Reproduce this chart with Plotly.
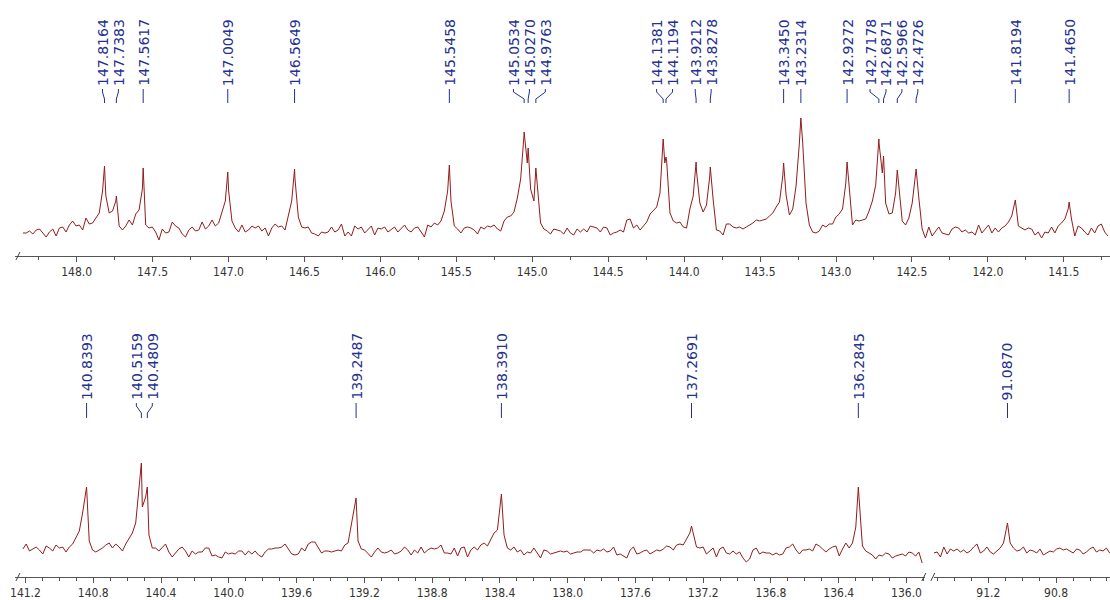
import numpy as np
import plotly.graph_objects as go

# ---------------- data ----------------
# Top spectrum: intensities sampled from 148.3536 ppm downward, step 0.021848 ppm
TOP_START = 148.3536
TOP_STEP = 0.021848
TOP_Y = [
    -2, -2, 0, -3, 1, 2, -2, -6, -1, 2, -5, 3, 4, -1, 6, 10, 5, 6, 1, 13,
    7, 8, 13, 18, 40, 35, 18, 20, 30, 5, 1, 5, 11, 6, 17, 21, 42, 6, 3, 4,
    -1, -9, 2, -2, -1, 9, 5, 3, -3, -6, 1, 4, 0, 1, 9, 2, 5, 11, 5, 8,
    18, 30, 40, 10, 3, -1, 6, -1, 1, 5, 3, 5, 0, 3, -5, 3, 7, 4, 5,
    1, 15, 30, 52, 14, 4, 3, 4, -2, -3, -5, -1, -2, -1, 4, -1, 1, 7, -5, -1,
    -5, 5, 2, 4, -2, 1, 5, -4, 3, 2, 4, -1, 2, 4, -1, 3, 6, 1, -1, 3,
    4, -1, -6, 6, 4, 8, 6, 10, 20, 40, 30, 5, 2, -2, 3, 4, 3, 1, -3, 4,
    2, 5, 4, 6, 2, 0, 10, 14, 15, 19, 33, 52, 95, 68, 42, 30, 45, 8, 2, 0,
    -3, 2, 1,
    0, -3, 3, -2, -4, 2, -1, 2, -1, 5, 4, 3, -1, 4, 3, -4, -2, -1, 1, -1,
    11, 12, 3, 6, 1, 5, 9, 17, 20, 24, 38, 90, 70, 18, 10, 8, 9, 4, 3, 22,
    35, 60, 28, 19, 26, 55, 32, 1, 0, -4, 7, 7, 4, 3, 4, 2, 4, 6, 8, 11,
    10, 11, 12, 15, 18, 24, 29, 55, 36, 16, 22, 45, 88, 88, 28, 6, -1, -2, 0, 6,
    4, 7,
    7, 14, 17, 22, 48, 42, 6, 11, 10, 11, 12, 20, 30, 46, 88, 58, 28, 17, 18, 38,
    42, 10, 6, 13, 28, 55, 33, 2, -7, 4, -5, -1, 4, -2, -3, -4, 2, 4, 3, -1,
    1, -2, -1, -4, 6, -2, 2, 6, -2, 3, -1, 3, 5, 9, 15, 28, 5, 3, 1, 3,
    2, -4, -1, -7, -1, -2, 4, -2, 5, 8, 12, 22, 12, -5, 5, 3, -1, -4, 3, -2,
    5, 7, -1, -5,
]
TOP_PEAK_PPM = [147.8164, 147.7383, 147.5617, 147.0049, 146.5649, 145.5458,
                145.0534, 145.0270, 144.9763, 144.1381, 144.1194, 143.9212,
                143.8278, 143.3450, 143.2314, 142.9272, 142.7178, 142.6871,
                142.5966, 142.4726, 141.8194, 141.4650]
TOP_PEAK_H = [65, 35, 63, 59, 62, 66, 99, 83, 63, 92, 74, 69, 64, 68, 113,
              69, 92, 75, 61, 62, 31, 29]
TOP_NOTCH_PPM = [144.1273]
TOP_NOTCH_H = [68]

# Bottom spectrum (main segment): from 141.2153 ppm, step 0.019585 ppm
BOT_START = 141.2153
BOT_STEP = 0.019585
BOT_Y = [
    0, 5, -2, 0, 2, -1, -5, 3, 1, -2, 4, 1, 2, -3, 2, 5, 12, 18, 36, 58,
    8, -1, -3, -1, 1, 4, 6, 1, 5, 2, -2, 5, 10, 16, 26, 60, 42, 52, 14, 1,
    1, -2, 1, 5, -3, -8, -4, 0, 2, -2, -8, -2, -5, -3, -3, 1, 1, -7, -6, -8,
    -9, -3, -5, -4, -5, -2, -2, -6, -2, -5, -2, -6, -8, -3, 0, 0, 1, 1, 2,
    5, 0, -5, -6, -5, 1, -2, 5, 7, 7, 2, -4, -2, -2, -3, -2, -1, -2, 4, 6,
    24, 45, 8, 0, -1, -5, -8, -3, 1, -3, -4, -3, -1, -5, -4, -2, 2, -1, -6, -1,
    -4, 2, -4, -1, 1, 0, 1, 4, -4, -4, -5, 1, -7, 1, 2, -8, -1, 2, -1, 4,
    6, 3, 9, 16, 19, 50, 14, 1, -1, 2, -3, -1, -6, -3, -4, 1, -4, -9, -1, -2,
    -5, -4, -3,
    -2, -3, -2, -5, -4, -3, -3, -1, -1, -1, -4, -1, -2, 0, -3, -2, 2, -6, -5, -7,
    -9, -1, 2, -5, -4, -2, -1, -5, -3, -1, -2, 0, 3, 2, -1, 4, 5, 4, 10, 16,
    16, 2, 1, 2, -5, -2, 1, -8, 0, 2, -4, -5, -2, -5, -3, -9, -13, -10, -1, 1,
    -5, -3, -4, -4, -6, -4, -6, -5, 1, 2, 5, -1, -5, -1, -1, 0, -2, 5, 3, 0,
    -3, 0,
    2, 3, -7, 0, 6, 1, 6, 22, 50, 3, -2, -4, -6, -10, -6, -7, -4, -5, -9, -7,
    -6, -5, -7, -3, -4, -7, -3, -14,
]
BOT_PEAK_PPM = [140.8393, 140.5159, 140.4809, 139.2487, 138.3910, 137.2691, 136.2845]
BOT_PEAK_H = [62, 86, 62, 51, 55, 23, 62]

# Bottom spectrum (segment after the axis break)
BRK_START = 91.5218
BRK_STEP = 0.019585
BRK_Y = [
    -4, -3, -8, 2, -5, 0, -2, 0, -3, -1, -4, -2, 2, 5, -4, -2, 2, -3, -5, -2,
    1, 6, 22, 6, 1, -2, -1, 2, -4, -1, -2, -4, 0, -6, -4, -2, -3, 0, 1, -1,
    0, -2, -4, 0, -1, -5, -3, 0, 2, -3, -1, -2, 1, -4,
]
BRK_PEAK_PPM = [91.0870]
BRK_PEAK_H = [26]

# ---------------- layout constants ----------------
W, H = 1110, 600
TOP_RANGE = [148.406, 141.196]
TOP_DOM = [10 / W, 1.0]
BOT_RANGE = [141.262, 135.892]
BOT_DOM = [10 / W, 924 / W]
BRK_RANGE = [91.522, 90.482]
BRK_DOM = [933 / W, 1.0]
TOP_YDOM = [1 - 256 / H, 1.0]
TOP_YRANGE = [-25, 231]
BOT_YDOM = [1 - 577 / H, 1 - 300 / H]
BOT_YRANGE = [-28, 249]

LINE_COLOR = "#921c1c"
LABEL_COLOR = "#25308f"
LABEL_FONT = dict(family="DejaVu Sans, Arial, sans-serif", size=14, color=LABEL_COLOR)
TICK_FONT = dict(family="DejaVu Sans Condensed, Liberation Sans Narrow, Arial Narrow, Liberation Sans, sans-serif",
                 size=12, color="#333333")


def build(start, step, ys, pk_ppm, pk_h):
    x = start - step * np.arange(len(ys))
    xs = np.concatenate([x, np.array(pk_ppm, float)])
    yy = np.concatenate([np.array(ys, float), np.array(pk_h, float)])
    order = np.argsort(-xs)
    return xs[order], yy[order]


def px_per_ppm(rng, dom):
    return (dom[1] - dom[0]) * W / abs(rng[0] - rng[1])


def spread(ppms, scale, gap):
    """Place label positions (ppm) so neighbours are at least `gap` px apart,
    centring each crowded group on its peaks."""
    ref = max(ppms)
    pos = sorted((ref - p) * scale for p in ppms)
    clusters = [[p] for p in pos]
    merged = True
    while merged:
        merged = False
        out = []
        for c in clusters:
            if out:
                prev = out[-1]
                ps = np.mean(prev) - (len(prev) - 1) * gap / 2
                pe = ps + (len(prev) - 1) * gap
                cs = np.mean(c) - (len(c) - 1) * gap / 2
                if cs - pe < gap:
                    out[-1] = prev + c
                    merged = True
                    continue
            out.append(c)
        clusters = out
    placed = []
    for c in clusters:
        s = np.mean(c) - (len(c) - 1) * gap / 2
        placed += [s + i * gap for i in range(len(c))]
    return [ref - q / scale for q in placed]


fig = go.Figure()

tx, ty = build(TOP_START, TOP_STEP, TOP_Y, TOP_PEAK_PPM + TOP_NOTCH_PPM, TOP_PEAK_H + TOP_NOTCH_H)
fig.add_trace(go.Scatter(x=tx, y=ty, mode="lines", line=dict(color=LINE_COLOR, width=1),
                         xaxis="x", yaxis="y", hoverinfo="skip", showlegend=False))
bx, by = build(BOT_START, BOT_STEP, BOT_Y, BOT_PEAK_PPM, BOT_PEAK_H)
fig.add_trace(go.Scatter(x=bx, y=by, mode="lines", line=dict(color=LINE_COLOR, width=1),
                         xaxis="x2", yaxis="y2", hoverinfo="skip", showlegend=False))
kx, ky = build(BRK_START, BRK_STEP, BRK_Y, BRK_PEAK_PPM, BRK_PEAK_H)
fig.add_trace(go.Scatter(x=kx, y=ky, mode="lines", line=dict(color=LINE_COLOR, width=1),
                         xaxis="x3", yaxis="y3", hoverinfo="skip", showlegend=False))

annotations = []
shapes = []


def add_labels(peaks, xref, rng, dom, text_bottom_px, conn_px):
    scale = px_per_ppm(rng, dom)
    labs = spread(sorted(peaks, reverse=True), scale, 16)
    for pk, lx in zip(sorted(peaks, reverse=True), labs):
        annotations.append(dict(x=lx, xref=xref, y=1 - text_bottom_px / H, yref="paper",
                                text=f"{pk:.4f}", showarrow=False, textangle=-90,
                                xanchor="center", yanchor="bottom", font=LABEL_FONT,
                                borderpad=0))
        y0, y1, y2, y3 = [1 - v / H for v in conn_px]
        path = f"M {lx},{y0} L {lx},{y1} L {pk},{y2} L {pk},{y3}"
        shapes.append(dict(type="path", path=path, xref=xref, yref="paper",
                           line=dict(color=LABEL_COLOR, width=1)))


add_labels(TOP_PEAK_PPM, "x", TOP_RANGE, TOP_DOM, 87, (89, 92, 99, 103))
add_labels(BOT_PEAK_PPM, "x2", BOT_RANGE, BOT_DOM, 401, (403, 406, 413, 418))
add_labels(BRK_PEAK_PPM, "x3", BRK_RANGE, BRK_DOM, 401, (403, 406, 413, 418))

# axis-break marks
for (xa, ya) in [(11, 256), (11, 577), (921, 577), (930, 577)]:
    shapes.append(dict(type="line", xref="paper", yref="paper",
                       x0=xa / W, y0=1 - (ya + 4) / H, x1=(xa + 4) / W, y1=1 - (ya - 4) / H,
                       line=dict(color="#444444", width=1)))

axis_common = dict(showline=True, linecolor="#555555", linewidth=1, ticks="outside",
                   ticklen=5, tickcolor="#555555", showgrid=False, zeroline=False,
                   tickfont=TICK_FONT, tickformat=".1f", fixedrange=True)

fig.update_layout(
    width=W, height=H, margin=dict(l=0, r=0, t=0, b=0),
    paper_bgcolor="white", plot_bgcolor="white", showlegend=False,
    xaxis=dict(domain=TOP_DOM, range=TOP_RANGE, anchor="y", tick0=0, dtick=0.5,
               minor=dict(dtick=0.25, ticklen=3, ticks="outside", tickcolor="#555555"),
               **axis_common),
    yaxis=dict(domain=TOP_YDOM, range=TOP_YRANGE, visible=False, anchor="x"),
    xaxis2=dict(domain=BOT_DOM, range=BOT_RANGE, anchor="y2", tick0=0, dtick=0.4,
                minor=dict(dtick=0.1, ticklen=3, ticks="outside", tickcolor="#555555"),
                **axis_common),
    yaxis2=dict(domain=BOT_YDOM, range=BOT_YRANGE, visible=False, anchor="x2"),
    xaxis3=dict(domain=BRK_DOM, range=BRK_RANGE, anchor="y3", tick0=0, dtick=0.4,
                minor=dict(dtick=0.1, ticklen=3, ticks="outside", tickcolor="#555555"),
                **axis_common),
    yaxis3=dict(domain=BOT_YDOM, range=BOT_YRANGE, visible=False, anchor="x3"),
    annotations=annotations,
    shapes=shapes,
)

fig.write_html("out.html")
